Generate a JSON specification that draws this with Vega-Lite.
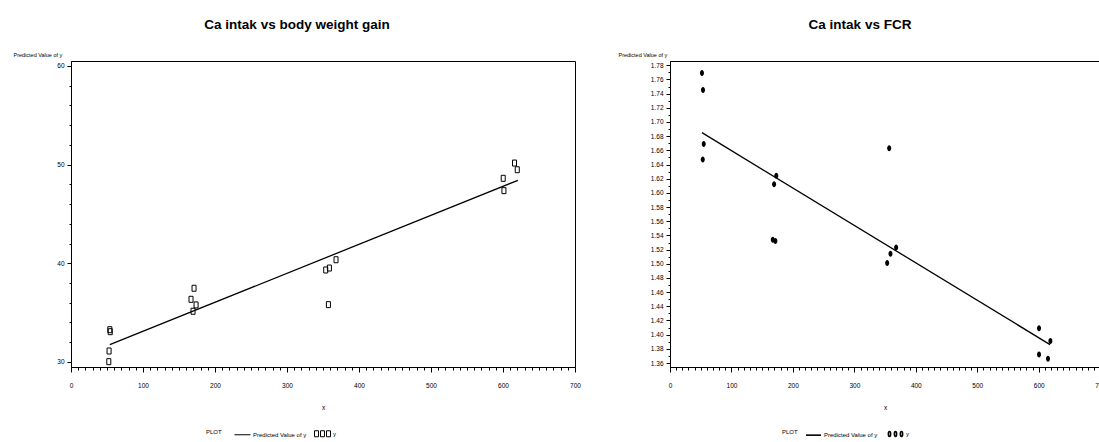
{
  "$schema": "https://vega.github.io/schema/vega-lite/v6.json",
  "background": "white",
  "padding": {"left": 12, "top": 17, "right": 0, "bottom": 0},
  "config": {
    "font": "Liberation Sans",
    "view": {"stroke": "black", "strokeWidth": 1},
    "axis": {
      "domainColor": "black", "tickColor": "black", "labelColor": "black", "titleColor": "black",
      "grid": false, "labelFontSize": 6.5, "titleFontSize": 5.5, "titleFontWeight": "normal",
      "labelOverlap": false, "labelFlush": false, "labelBound": false, "tickCount": 200
    },
    "title": {"fontSize": 13.5, "fontWeight": "bold", "color": "black", "font": "Liberation Sans"},
    "legend": {"labelFontSize": 6, "titleFontSize": 6, "titleFontWeight": "normal", "labelColor": "black", "titleColor": "black", "symbolOpacity": 1}
  },
  "datasets": {
    "bwg": [
      {"x": 53.9, "y": 33.27, "series": "y"}, {"x": 54.5, "y": 33.07, "series": "y"},
      {"x": 52.9, "y": 31.11, "series": "y"}, {"x": 52.5, "y": 30.03, "series": "y"},
      {"x": 170.9, "y": 37.47, "series": "y"}, {"x": 166.7, "y": 36.35, "series": "y"},
      {"x": 173.7, "y": 35.78, "series": "y"}, {"x": 169.5, "y": 35.14, "series": "y"},
      {"x": 353.8, "y": 39.32, "series": "y"}, {"x": 358.9, "y": 39.52, "series": "y"},
      {"x": 368.1, "y": 40.36, "series": "y"}, {"x": 357.5, "y": 35.81, "series": "y"},
      {"x": 600.3, "y": 48.61, "series": "y"}, {"x": 601.3, "y": 47.36, "series": "y"},
      {"x": 616.0, "y": 50.16, "series": "y"}, {"x": 619.8, "y": 49.48, "series": "y"}
    ],
    "bwgFit": [
      {"x": 53.9, "y": 31.75, "series": "Predicted Value of y"},
      {"x": 620.7, "y": 48.41, "series": "Predicted Value of y"}
    ],
    "fcr": [
      {"x": 52.0, "y": 1.769, "series": "y"}, {"x": 53.7, "y": 1.745, "series": "y"},
      {"x": 54.9, "y": 1.669, "series": "y"}, {"x": 53.3, "y": 1.647, "series": "y"},
      {"x": 173.0, "y": 1.624, "series": "y"}, {"x": 169.4, "y": 1.612, "series": "y"},
      {"x": 167.3, "y": 1.534, "series": "y"}, {"x": 171.5, "y": 1.532, "series": "y"},
      {"x": 356.7, "y": 1.663, "series": "y"}, {"x": 368.0, "y": 1.523, "series": "y"},
      {"x": 358.8, "y": 1.514, "series": "y"}, {"x": 353.4, "y": 1.501, "series": "y"},
      {"x": 600.5, "y": 1.409, "series": "y"}, {"x": 619.0, "y": 1.391, "series": "y"},
      {"x": 600.5, "y": 1.372, "series": "y"}, {"x": 615.1, "y": 1.366, "series": "y"}
    ],
    "fcrFit": [
      {"x": 52.0, "y": 1.685, "series": "Predicted Value of y"},
      {"x": 618.4, "y": 1.386, "series": "Predicted Value of y"}
    ]
  },
  "spacing": 36,
  "resolve": {
    "scale": {"x": "independent", "y": "independent", "shape": "independent"},
    "legend": {"shape": "independent"}
  },
  "hconcat": [
    {
      "width": 504,
      "height": 306,
      "title": {"text": "Ca intak vs body weight gain", "dx": -26, "offset": 21},
      "encoding": {
        "x": {
          "field": "x", "type": "quantitative",
          "scale": {"domain": [0, 700], "nice": false, "zero": false},
          "axis": {
            "values": [0,10,20,30,40,50,60,70,80,90,100,110,120,130,140,150,160,170,180,190,200,210,220,230,240,250,260,270,280,290,300,310,320,330,340,350,360,370,380,390,400,410,420,430,440,450,460,470,480,490,500,510,520,530,540,550,560,570,580,590,600,610,620,630,640,650,660,670,680,690,700],
            "tickCount": 200,
            "labelExpr": "datum.value % 100 === 0 ? format(datum.value, 'd') : ''",
            "labelOverlap": false,
            "tickSize": {"condition": {"test": "datum.value % 100 === 0", "value": 5}, "value": 3},
            "labelPadding": 10,
            "title": "x", "titleFontSize": 6.5, "titleY": 40, "titleBaseline": "middle"
          }
        },
        "y": {
          "field": "y", "type": "quantitative",
          "scale": {"domain": [29.49, 60.5], "nice": false, "zero": false},
          "axis": {
            "values": [30,32,34,36,38,40,42,44,46,48,50,52,54,56,58,60],
            "tickCount": 200,
            "labelExpr": "datum.value % 10 === 0 ? format(datum.value, 'd') : ''",
            "labelOverlap": false,
            "tickSize": {"condition": {"test": "datum.value % 10 === 0", "value": 4}, "value": 2},
            "labelPadding": 3,
            "title": "Predicted Value of y", "titleAngle": 0, "titleAlign": "left",
            "titleX": -58, "titleY": -7, "titleBaseline": "middle"
          }
        }
      },
      "layer": [
        {
          "data": {"name": "bwg"},
          "mark": {"type": "point", "shape": "M-0.67,-1H0.67V1H-0.67Z", "filled": false, "color": "black", "strokeWidth": 1, "size": 36, "opacity": 1}
        },
        {
          "data": {"name": "bwg"},
          "mark": {"type": "point", "filled": false, "color": "black", "strokeWidth": 1, "size": 0},
          "encoding": {
            "shape": {
              "field": "series", "type": "nominal",
              "scale": {"domain": ["Predicted Value of y", "y"], "range": ["M-1,0L1,0", "M-1,-0.375H-0.5V0.375H-1Z M-0.25,-0.375H0.25V0.375H-0.25Z M0.5,-0.375H1V0.375H0.5Z"]},
              "legend": {
                "title": "PLOT", "orient": "none", "legendX": 135, "legendY": 364,
                "direction": "horizontal", "titleOrient": "left", "titlePadding": 12,
                "symbolSize": 256, "symbolStrokeWidth": 1, "symbolStrokeColor": "black", "labelOffset": 2, "columnPadding": 5
              }
            }
          }
        },
        {
          "data": {"name": "bwgFit"},
          "mark": {"type": "line", "color": "black", "strokeWidth": 1.3}
        }
      ]
    },
    {
      "width": 440,
      "height": 306,
      "title": {"text": "Ca intak vs FCR", "dx": -30, "offset": 21},
      "encoding": {
        "x": {
          "field": "x", "type": "quantitative",
          "scale": {"domain": [0, 716], "nice": false, "zero": false},
          "axis": {
            "values": [0,10,20,30,40,50,60,70,80,90,100,110,120,130,140,150,160,170,180,190,200,210,220,230,240,250,260,270,280,290,300,310,320,330,340,350,360,370,380,390,400,410,420,430,440,450,460,470,480,490,500,510,520,530,540,550,560,570,580,590,600,610,620,630,640,650,660,670,680,690,700],
            "tickCount": 200,
            "labelExpr": "datum.value % 100 === 0 ? format(datum.value, 'd') : ''",
            "labelOverlap": false,
            "tickSize": {"condition": {"test": "datum.value % 100 === 0", "value": 5}, "value": 3},
            "labelPadding": 10,
            "title": "x", "titleFontSize": 6.5, "titleX": 215, "titleY": 40, "titleBaseline": "middle"
          }
        },
        "y": {
          "field": "y", "type": "quantitative",
          "scale": {"domain": [1.3544, 1.786], "nice": false, "zero": false},
          "axis": {
            "values": [1.36,1.37,1.38,1.39,1.40,1.41,1.42,1.43,1.44,1.45,1.46,1.47,1.48,1.49,1.50,1.51,1.52,1.53,1.54,1.55,1.56,1.57,1.58,1.59,1.60,1.61,1.62,1.63,1.64,1.65,1.66,1.67,1.68,1.69,1.70,1.71,1.72,1.73,1.74,1.75,1.76,1.77,1.78],
            "tickCount": 200,
            "labelExpr": "round(datum.value * 100) % 2 === 0 ? format(datum.value, '.2f') : ''",
            "labelOverlap": false,
            "tickSize": {"condition": {"test": "round(datum.value * 100) % 2 === 0", "value": 4}, "value": 2},
            "labelPadding": 3,
            "title": "Predicted Value of y", "titleAngle": 0, "titleAlign": "left",
            "titleX": -52, "titleY": -7, "titleBaseline": "middle"
          }
        }
      },
      "layer": [
        {
          "data": {"name": "fcr"},
          "mark": {"type": "point", "shape": "M0,-1A0.67,1,0,1,1,0,1A0.67,1,0,1,1,0,-1Z", "filled": true, "color": "black", "size": 36, "opacity": 1}
        },
        {
          "data": {"name": "fcr"},
          "mark": {"type": "point", "filled": false, "color": "black", "strokeWidth": 1.6, "size": 0},
          "encoding": {
            "shape": {
              "field": "series", "type": "nominal",
              "scale": {"domain": ["Predicted Value of y", "y"], "range": ["M-1,0L1,0", "M-0.8,-0.33A0.15,0.33,0,1,1,-0.8,0.33A0.15,0.33,0,1,1,-0.8,-0.33Z M0,-0.33A0.15,0.33,0,1,1,0,0.33A0.15,0.33,0,1,1,0,-0.33Z M0.8,-0.33A0.15,0.33,0,1,1,0.8,0.33A0.15,0.33,0,1,1,0.8,-0.33Z"]},
              "legend": {
                "title": "PLOT", "orient": "none", "legendX": 112, "legendY": 364,
                "direction": "horizontal", "titleOrient": "left", "titlePadding": 7,
                "symbolSize": 225, "symbolStrokeWidth": 1.6, "symbolStrokeColor": "black", "labelOffset": 2, "columnPadding": 7
              }
            }
          }
        },
        {
          "data": {"name": "fcrFit"},
          "mark": {"type": "line", "color": "black", "strokeWidth": 1.3}
        }
      ]
    }
  ]
}
